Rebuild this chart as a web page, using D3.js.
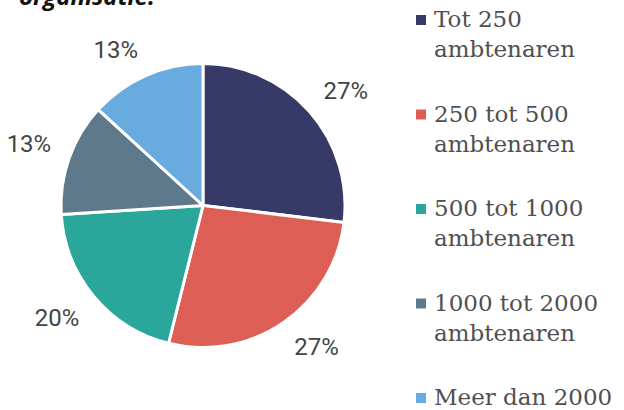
<!DOCTYPE html>
<html>
<head>
<meta charset="utf-8">
<script src="https://cdn.jsdelivr.net/npm/d3@7"></script>
<style>
  body { margin: 0; background: #fff; }
  svg { display: block; }
</style>
</head>
<body>
<svg id="chart"></svg>
<script>
const WIDTH = 624;
const HEIGHT = 410;

const categories = ["Tot 250 ambtenaren", "250 tot 500 ambtenaren", "500 tot 1000 ambtenaren",
    "1000 tot 2000 ambtenaren", "Meer dan 2000"];
const legendLines = [["Tot 250", "ambtenaren"], ["250 tot 500", "ambtenaren"], ["500 tot 1000", "ambtenaren"],
    ["1000 tot 2000", "ambtenaren"], ["Meer dan 2000"]];
const values = [26.9, 27.0, 20.1, 12.8, 13.2];
const colors = ["#373a66", "#dd5e54", "#2aa69a", "#5e798c", "#68abdf"];
const titleText = "organisatie:";

const CX = 203, CY = 205.5, R = 142;
const LABEL_R = 161;

const svg = d3.select("#chart").attr("width", WIDTH).attr("height", HEIGHT);

// title, mostly cut off at the top
svg.append("text")
    .attr("x", 19)
    .attr("y", 5)
    .attr("font-family", "'Open Sans', sans-serif")
    .attr("font-weight", "bold")
    .attr("font-style", "italic")
    .attr("font-size", 24)
    .attr("fill", "#111")
    .text(titleText);

const total = d3.sum(values);
const pie = d3.pie().sort(null).value(d => d);
const arcs = pie(values);
const arc = d3.arc().innerRadius(0).outerRadius(R);

const g = svg.append("g").attr("transform", `translate(${CX},${CY})`);

g.selectAll("path")
    .data(arcs)
    .enter()
    .append("path")
    .attr("d", arc)
    .attr("fill", (d, i) => colors[i])
    .attr("stroke", "#fff")
    .attr("stroke-width", 3)
    .attr("stroke-linejoin", "round");

// labels: nearest corner of the text box sits on a circle around the pie
const midAngle = d => (d.startAngle + d.endAngle) / 2;
g.selectAll("text.pct")
    .data(arcs)
    .enter()
    .append("text")
    .attr("class", "pct")
    .attr("x", d => LABEL_R * Math.sin(midAngle(d)))
    .attr("y", d => {
        const y = -LABEL_R * Math.cos(midAngle(d));
        return Math.cos(midAngle(d)) > 0 ? y : y + 17;
    })
    .attr("text-anchor", d => Math.sin(midAngle(d)) > 0 ? "start" : "end")
    .attr("font-family", "Roboto, sans-serif")
    .attr("font-size", 24)
    .attr("fill", "#444")
    .text(d => Math.round(d.value / total * 100) + "%");

// legend
const legend = svg.append("g").attr("transform", "translate(416,0)");
const item = legend.selectAll("g")
    .data(legendLines)
    .enter()
    .append("g")
    .attr("transform", (d, i) => `translate(0,${27 + i * 94.5})`);

item.append("rect")
    .attr("x", 0)
    .attr("y", -12)
    .attr("width", 10)
    .attr("height", 10)
    .attr("fill", (d, i) => colors[i]);

item.append("text")
    .attr("x", 18)
    .attr("font-family", "'DejaVu Serif', serif")
    .attr("font-size", 23)
    .attr("fill", "#505050")
    .selectAll("tspan")
    .data(d => d)
    .enter()
    .append("tspan")
    .attr("x", 18)
    .attr("y", (d, i) => i * 30)
    .text(d => d);
</script>
</body>
</html>
